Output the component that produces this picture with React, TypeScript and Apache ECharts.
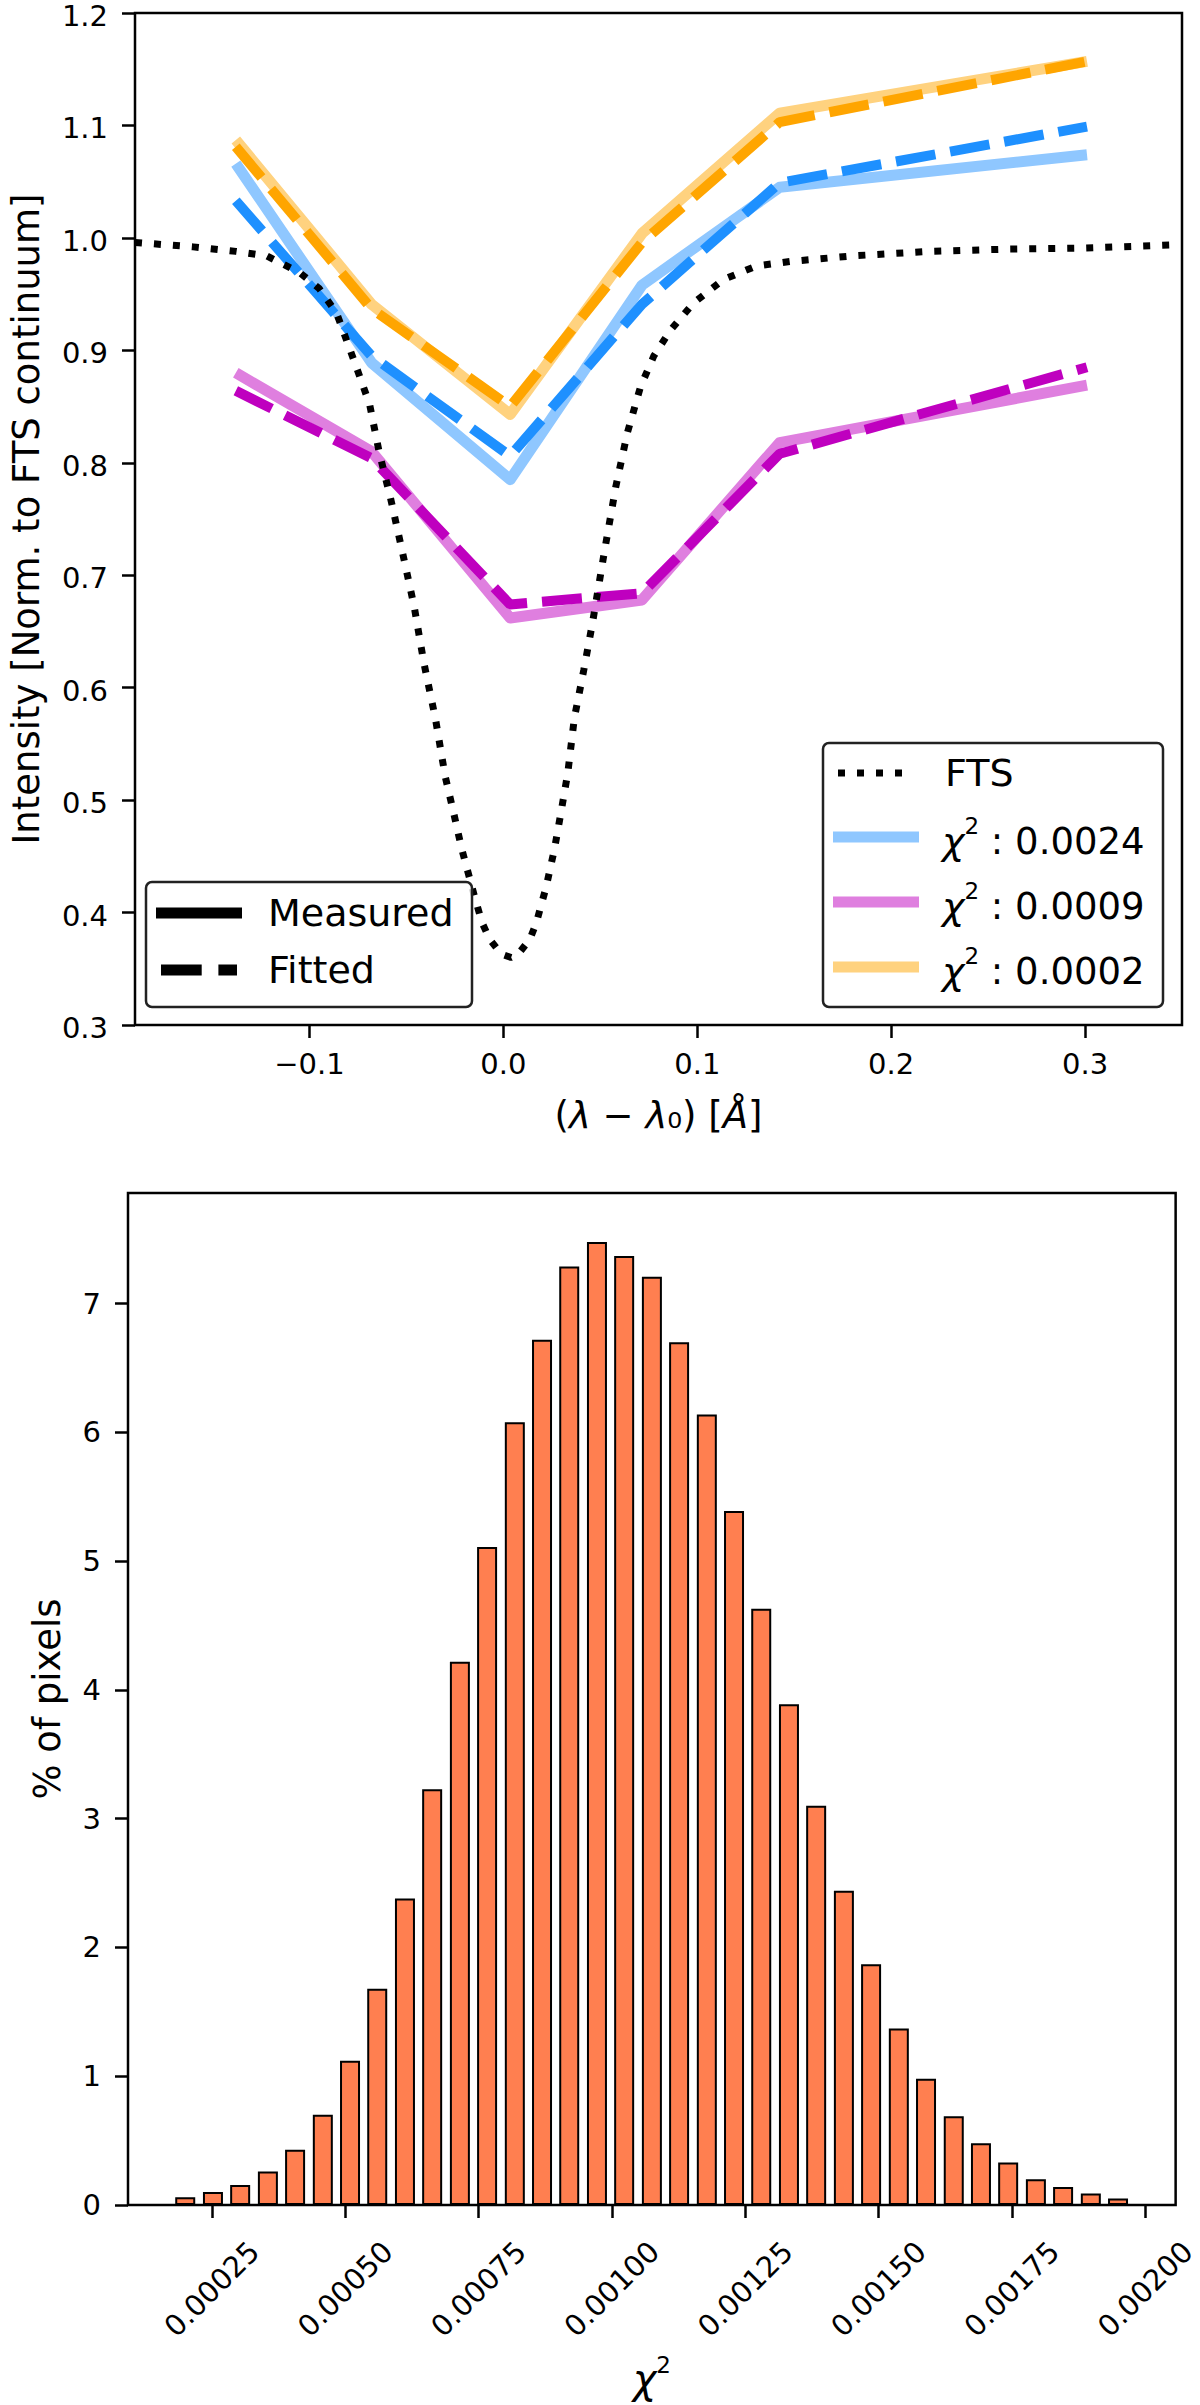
import { useEffect, useRef } from "react";
import * as echarts from "echarts";

const FONT = "'DejaVu Sans', 'Liberation Sans', sans-serif";

// FTS atlas profile (dotted line)
const ftsOffsets = [
  -0.19, -0.16, -0.138, -0.122, -0.105, -0.095, -0.086, -0.076, -0.069, -0.064, -0.058, -0.052,
  -0.046, -0.041, -0.035, -0.03, -0.0257, -0.0214, -0.015, -0.011, -0.007, -0.001, 0.004, 0.0076,
  0.0136, 0.017, 0.0221, 0.0264, 0.0298, 0.0332, 0.0366, 0.0415, 0.046, 0.052, 0.058, 0.064,
  0.0708, 0.0776, 0.0862, 0.098, 0.1135, 0.1305, 0.148, 0.18, 0.22, 0.26, 0.3, 0.35,
];
const ftsIntensity = [
  0.996, 0.992, 0.988, 0.984, 0.969, 0.955, 0.933, 0.886, 0.852, 0.809, 0.767, 0.72,
  0.672, 0.622, 0.572, 0.521, 0.489, 0.456, 0.415, 0.391, 0.376, 0.363, 0.36, 0.363,
  0.376, 0.391, 0.423, 0.457, 0.49, 0.524, 0.573, 0.616, 0.658, 0.72, 0.779, 0.827,
  0.868, 0.895, 0.918, 0.942, 0.963, 0.975, 0.979, 0.984, 0.988, 0.99, 0.991, 0.994,
];

// sampled line positions and the three pixels (measured / fitted)
const sampledOffsets = [-0.138, -0.068, 0.0035, 0.0715, 0.1425, 0.301];
const measuredBlue = [1.066, 0.889, 0.785, 0.958, 1.045, 1.074];
const fittedBlue = [1.033, 0.895, 0.806, 0.941, 1.049, 1.099];
const measuredViolet = [0.88, 0.81, 0.662, 0.678, 0.818, 0.869];
const fittedViolet = [0.864, 0.804, 0.674, 0.684, 0.808, 0.885];
const measuredOrange = [1.087, 0.941, 0.843, 1.004, 1.111, 1.157];
const fittedOrange = [1.081, 0.937, 0.85, 0.996, 1.103, 1.157];
const chiLabels = ["0.0024", "0.0009", "0.0002"];

const offsetTicks = [-0.1, 0, 0.1, 0.2, 0.3];

// chi^2 histogram
const binCenters = [
  0.0002, 0.000252, 0.000303, 0.000355, 0.000406, 0.000458, 0.000509, 0.00056, 0.000612,
  0.000663, 0.000715, 0.000766, 0.000818, 0.000869, 0.00092, 0.000972, 0.001023, 0.001075,
  0.001126, 0.001178, 0.001229, 0.00128, 0.001332, 0.001383, 0.001435, 0.001486, 0.001538,
  0.001589, 0.001641, 0.001692, 0.001743, 0.001795, 0.001846, 0.001898, 0.001949,
];
const pixelShare = [
  0.06, 0.1, 0.155, 0.26, 0.43, 0.7, 1.12, 1.68, 2.38, 3.23, 4.22, 5.11, 6.08, 6.72, 7.29, 7.48,
  7.37, 7.21, 6.7, 6.14, 5.39, 4.63, 3.89, 3.1, 2.44, 1.87, 1.37, 0.98, 0.69, 0.48, 0.33, 0.2,
  0.14, 0.09, 0.05,
];
const chiTicks = [0.00025, 0.0005, 0.00075, 0.001, 0.00125, 0.0015, 0.00175, 0.002];
const shareTicks = [0, 1, 2, 3, 4, 5, 6, 7];

const pairs = [
  { measured: measuredBlue, fitted: fittedBlue, light: "#8fc7ff", dark: "#1e90ff" },
  { measured: measuredViolet, fitted: fittedViolet, light: "#df7fdf", dark: "#bf00bf" },
  { measured: measuredOrange, fitted: fittedOrange, light: "#ffd27f", dark: "#ffa500" },
];

const tickStyle = { show: true, length: 13, lineStyle: { color: "#000", width: 2.5 } };
const labelStyle = { color: "#000", fontSize: 29, fontFamily: FONT };
const hiddenLine = { show: false, onZero: false };

function zip(xs: number[], ys: number[]) {
  return xs.map((x, i) => [x, ys[i]]);
}

export default function App() {
  const chartRef = useRef<HTMLDivElement>(null);

  useEffect(() => {
    document.body.style.margin = "0";
    if (!chartRef.current) {
      return undefined;
    }
    const chart = echarts.init(chartRef.current, undefined, { renderer: "svg" });

    const lineSeries: any[] = [];
    pairs.forEach((pair, i) => {
      lineSeries.push({
        name: `measured-${i}`,
        type: "line",
        xAxisIndex: 0,
        yAxisIndex: 0,
        symbol: "none",
        data: zip(sampledOffsets, pair.measured),
        lineStyle: { color: pair.light, width: 11, join: "round" },
      });
      lineSeries.push({
        name: `fitted-${i}`,
        type: "line",
        xAxisIndex: 0,
        yAxisIndex: 0,
        symbol: "none",
        data: zip(sampledOffsets, pair.fitted),
        lineStyle: { color: pair.dark, width: 10, type: [40, 15], cap: "butt" },
      });
    });
    lineSeries.push({
      name: "FTS",
      type: "line",
      xAxisIndex: 0,
      yAxisIndex: 0,
      symbol: "none",
      data: zip(ftsOffsets, ftsIntensity),
      lineStyle: { color: "#000", width: 7, type: [7, 12], cap: "butt" },
    });

    const mathRich = {
      i: { fontStyle: "italic", fontSize: 38, fontFamily: FONT, verticalAlign: "bottom", lineHeight: 46 },
      s: { fontSize: 23, fontFamily: FONT, verticalAlign: "top", lineHeight: 46 },
      n: { fontSize: 37, fontFamily: FONT, verticalAlign: "bottom", lineHeight: 46 },
    };
    const frame = { fill: "rgba(255,255,255,0.8)", stroke: "#222", lineWidth: 2.5 };
    const legendText = { fontSize: 38, fontFamily: FONT, fill: "#000", verticalAlign: "middle" };

    const graphic: any[] = [
      // legend: line styles
      { type: "rect", z: 100, shape: { x: 146, y: 882, width: 326, height: 125, r: 6 }, style: frame },
      {
        type: "line",
        z: 101,
        shape: { x1: 156, y1: 913, x2: 242, y2: 913 },
        style: { stroke: "#000", lineWidth: 11, lineCap: "butt" },
      },
      { type: "text", z: 101, x: 268, y: 913, style: { ...legendText, text: "Measured" } },
      {
        type: "line",
        z: 101,
        shape: { x1: 161, y1: 970, x2: 237, y2: 970 },
        style: { stroke: "#000", lineWidth: 11, lineDash: [40.7, 16.7], lineCap: "butt" },
      },
      { type: "text", z: 101, x: 268, y: 970, style: { ...legendText, text: "Fitted" } },
      // legend: profiles
      { type: "rect", z: 100, shape: { x: 823, y: 743, width: 340, height: 264, r: 6 }, style: frame },
      {
        type: "line",
        z: 101,
        shape: { x1: 838, y1: 773, x2: 904, y2: 773 },
        style: { stroke: "#000", lineWidth: 7, lineDash: [7, 12], lineCap: "butt" },
      },
      { type: "text", z: 101, x: 945, y: 773, style: { ...legendText, text: "FTS" } },
    ];
    pairs.forEach((pair, i) => {
      const y = 837 + i * 65;
      graphic.push({
        type: "line",
        z: 101,
        shape: { x1: 833, y1: y, x2: 919, y2: y },
        style: { stroke: pair.light, lineWidth: 11, lineCap: "butt" },
      });
      graphic.push({
        type: "text",
        z: 101,
        x: 942,
        y,
        style: {
          text: `{i|χ}{s|2}{n| : ${chiLabels[i]}}`,
          rich: mathRich,
          fill: "#000",
          verticalAlign: "middle",
        },
      });
    });

    chart.setOption({
      animation: false,
      textStyle: { fontFamily: FONT, color: "#000" },
      grid: [
        { left: 128, top: 13, width: 1054, height: 1012, show: true, borderColor: "#000", borderWidth: 2.5 },
        { left: 128, top: 1193, width: 1053, height: 1012, show: true, borderColor: "#000", borderWidth: 2.5 },
      ],
      xAxis: [
        {
          type: "value",
          gridIndex: 0,
          min: -0.19,
          max: 0.35,
          axisLine: hiddenLine,
          splitLine: { show: false },
          axisTick: { ...tickStyle, customValues: offsetTicks },
          axisLabel: {
            ...labelStyle,
            margin: 24,
            customValues: offsetTicks,
            formatter: (v: number) => (v < 0 ? "\u2212" + Math.abs(v).toFixed(1) : v.toFixed(1)),
          },
          name: "({i|λ} − {i|λ}₀) [{i|Å}]",
          nameLocation: "middle",
          nameGap: 72,
          nameTextStyle: {
            fontSize: 37,
            fontFamily: FONT,
            color: "#000",
            rich: { i: { fontStyle: "italic", fontSize: 37, fontFamily: FONT } },
          },
        },
        {
          type: "value",
          gridIndex: 1,
          min: 0.0000927,
          max: 0.002057,
          axisLine: hiddenLine,
          splitLine: { show: false },
          axisTick: { ...tickStyle, customValues: chiTicks },
          axisLabel: {
            ...labelStyle,
            rotate: 45,
            align: "center",
            verticalAlign: "middle",
            margin: 84,
            customValues: chiTicks,
            formatter: (v: number) => v.toFixed(5),
          },
          name: "{i|χ}{s|2}",
          nameLocation: "middle",
          nameGap: 148,
          nameTextStyle: {
            fontSize: 38,
            color: "#000",
            rich: {
              i: { fontStyle: "italic", fontSize: 40, fontFamily: FONT, verticalAlign: "bottom", lineHeight: 46 },
              s: { fontSize: 23, fontFamily: FONT, verticalAlign: "top", lineHeight: 46 },
            },
          },
        },
      ],
      yAxis: [
        {
          type: "value",
          gridIndex: 0,
          min: 0.3,
          max: 1.2,
          interval: 0.1,
          axisLine: hiddenLine,
          splitLine: { show: false },
          axisTick: tickStyle,
          axisLabel: {
            ...labelStyle,
            margin: 27,
            verticalAlign: "top",
            lineHeight: 6,
            formatter: (v: number) => v.toFixed(1),
          },
          name: "Intensity [Norm. to FTS continuum]",
          nameLocation: "middle",
          nameGap: 90,
          nameTextStyle: { fontSize: 37, fontFamily: FONT, color: "#000" },
        },
        {
          type: "value",
          gridIndex: 1,
          min: 0,
          max: 7.86,
          axisLine: hiddenLine,
          splitLine: { show: false },
          axisTick: { ...tickStyle, customValues: shareTicks },
          axisLabel: { ...labelStyle, margin: 27, customValues: shareTicks, formatter: (v: number) => String(v) },
          name: "% of pixels",
          nameLocation: "middle",
          nameGap: 62,
          nameTextStyle: { fontSize: 37, fontFamily: FONT, color: "#000" },
        },
      ],
      series: [
        ...lineSeries,
        {
          name: "chi2",
          type: "bar",
          xAxisIndex: 1,
          yAxisIndex: 1,
          barWidth: 20,
          data: zip(binCenters, pixelShare),
          itemStyle: { color: "#ff7f50", borderColor: "#000", borderWidth: 2 },
        },
      ],
      graphic,
    });

    return () => {
      chart.dispose();
    };
  }, []);

  return <div ref={chartRef} style={{ width: 1200, height: 2405 }} aria-label="Line profiles and chi-square histogram" />;
}
